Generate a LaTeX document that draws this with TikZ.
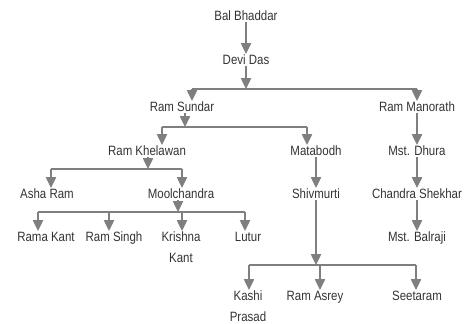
\documentclass[tikz,border=0pt]{standalone}
\usepackage{fontspec}
\setmainfont{Liberation Sans}[FakeStretch=0.85]
\usepackage{xcolor}
\usetikzlibrary{arrows.meta}
\definecolor{C333333}{HTML}{333333}
\definecolor{C7F7F7F}{HTML}{7F7F7F}
\tikzset{
  person/.style={inner sep=1pt, anchor=north, align=center, text=C333333, font=\fontsize{13.5}{20.5}\selectfont},
  link/.style={draw=C7F7F7F, line width=2.4pt},
  drop/.style={link, -{Triangle[length=11pt,width=10pt]}}
}
\begin{document}
\begin{tikzpicture}[x=1pt,y=1pt]
\useasboundingbox (0,0) rectangle (467,-324);
\node (n0) [person,at={(246,-10)}] {Bal Bhaddar};
\node (n1) [person,at={(246,-54)}] {Devi Das};
\node (n2) [person,at={(182,-101)}] {Ram Sundar};
\node (n3) [person,at={(417,-101)}] {Ram Manorath};
\node (n4) [person,at={(147,-145)}] {Ram Khelawan};
\node (n5) [person,at={(316,-145)}] {Matabodh};
\node (n6) [person,at={(417,-145)}] {Mst. Dhura};
\node (n7) [person,at={(47,-188)}] {Asha Ram};
\node (n8) [person,at={(181,-188)}] {Moolchandra};
\node (n9) [person,at={(316,-188)}] {Shivmurti};
\node (n10) [person,at={(417,-188)}] {Chandra Shekhar};
\node (n11) [person,at={(46,-231)}] {Rama Kant};
\node (n12) [person,at={(114,-231)}] {Ram Singh};
\node (n13) [person,at={(181,-231)}] {Krishna\\Kant};
\node (n14) [person,at={(248,-231)}] {Lutur};
\node (n15) [person,at={(417,-231)}] {Mst. Balraji};
\node (n16) [person,at={(248,-290)}] {Kashi\\Prasad};
\node (n17) [person,at={(315,-290)}] {Ram Asrey};
\node (n18) [person,at={(417,-290)}] {Seetaram};
% bar ends and drop points
\coordinate (b1) at (246,-89);
\coordinate (b1a) at (192,-89);
\coordinate (b1b) at (417,-89);
\coordinate (b2) at (185,-127);
\coordinate (b2a) at (162,-127);
\coordinate (b2b) at (307,-127);
\coordinate (b3) at (148,-169);
\coordinate (b3a) at (51,-169);
\coordinate (b3b) at (182,-169);
\coordinate (b4) at (178,-212);
\coordinate (b4a) at (38,-212);
\coordinate (b4b) at (109,-212);
\coordinate (b4c) at (182,-212);
\coordinate (b4d) at (245,-212);
\coordinate (b5) at (316,-265);
\coordinate (b5a) at (249,-265);
\coordinate (b5b) at (320,-265);
\coordinate (b5c) at (416,-265);
% straight lines
\path [drop](n0)--(n1);
\path [drop](n3)--(n6);
\path [drop](n6)--(n10);
\path [drop](n10)--(n15);
\path [drop](n5)--(n9);
% parents to bars
\path [drop](n1)--(b1);
\path [drop](b2 |- n2.south)--(b2);
\path [drop](b3 |- n4.south)--(b3);
\path [drop](b4 |- n8.south)--(b4);
\path [drop](n9)--(b5);
% bars
\path [link](b1a)--(b1b);
\path [link](b2a)--(b2b);
\path [link](b3a)--(b3b);
\path [link](b4a)--(b4d);
\path [link](b5a)--(b5c);
% bars to children
\path [drop](b1a)--(b1a |- n2.north);
\path [drop](b1b)--(n3);
\path [drop](b2a)--(b2a |- n4.north);
\path [drop](b2b)--(b2b |- n5.north);
\path [drop](b3a)--(b3a |- n7.north);
\path [drop](b3b)--(b3b |- n8.north);
\path [drop](b4a)--(b4a |- n11.north);
\path [drop](b4b)--(b4b |- n12.north);
\path [drop](b4c)--(b4c |- n13.north);
\path [drop](b4d)--(b4d |- n14.north);
\path [drop](b5a)--(b5a |- n16.north);
\path [drop](b5b)--(b5b |- n17.north);
\path [drop](b5c)--(b5c |- n18.north);
\end{tikzpicture}
\end{document}
